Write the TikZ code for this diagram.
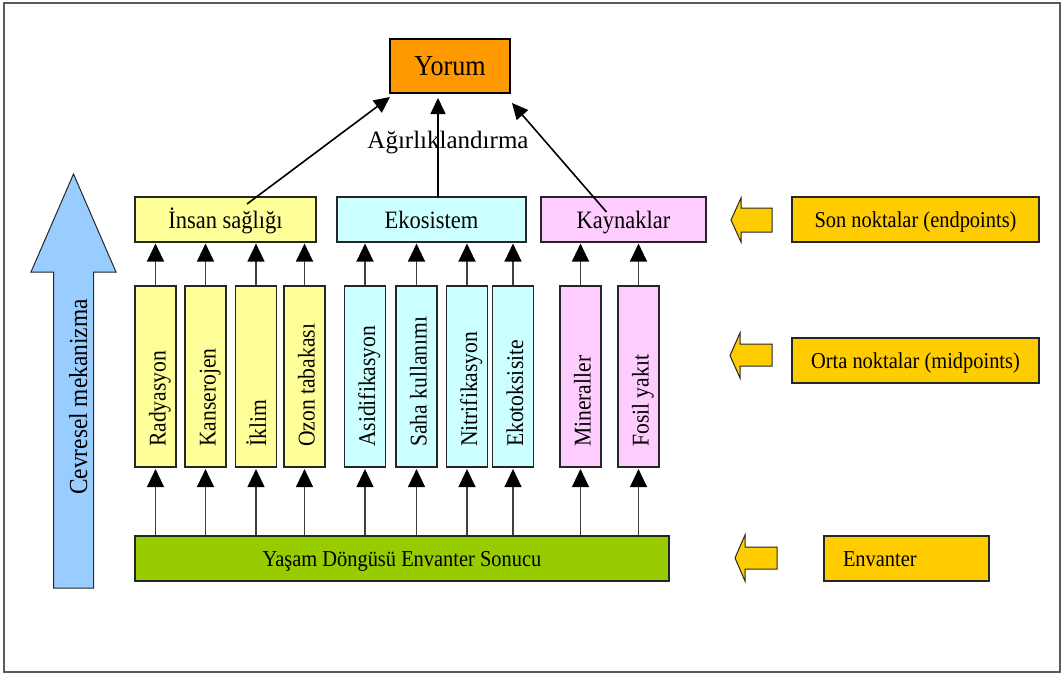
\documentclass[tikz,border=0pt]{standalone}
\usepackage{fontspec}
\setmainfont{Liberation Serif}[FakeStretch=0.9]
\newfontfamily\plainserif{Liberation Serif}
\usetikzlibrary{arrows.meta}

\definecolor{yorumfill}{HTML}{FF9900}
\definecolor{healthfill}{HTML}{FFFF99}
\definecolor{ecofill}{HTML}{CCFFFF}
\definecolor{resfill}{HTML}{FFCCFF}
\definecolor{invfill}{HTML}{99CC00}
\definecolor{levelfill}{HTML}{FFCC00}
\definecolor{mechfill}{HTML}{99CCFF}
\definecolor{framegray}{HTML}{5A5A5A}

\begin{document}
\begin{tikzpicture}[x=1pt,y=-1pt,
  box/.style={draw=black!85, line width=1.1pt, inner sep=0pt, align=center, text depth=0pt},
  topbox/.style={box, minimum height=45pt, text height=18pt, font=\fontsize{25}{25}\selectfont},
  catbox/.style={box, minimum width=41pt, minimum height=181pt},
  levelbox/.style={box, fill=levelfill, minimum height=45pt, text height=15.4pt,
    font=\fontsize{22.7}{23}\selectfont},
  vlabel/.style={rotate=90, anchor=base west, inner sep=0pt, font=\fontsize{24}{24}\selectfont},
  uparrow/.style={draw=black!75, line width=1.2pt, -{Triangle[width=17pt,length=18pt,color=black]}},
  weightarrow/.style={draw=black, line width=1.6pt, -{Triangle[width=15pt,length=16pt,color=black]}},
  blockarrow/.style={draw=black!85, line width=1pt, fill=levelfill, line join=miter}
]
\useasboundingbox (0,0) rectangle (1063,675);

% outer frame
\draw[framegray, line width=1.6pt] (4,3) rectangle (1060,672);

% environmental mechanism arrow
\draw[draw=black!85, line width=1pt, fill=mechfill]
  (53.5,588) -- (53.5,272) -- (31,272) -- (73.5,174) -- (116,272) -- (93.5,272) -- (93.5,588) -- cycle;
\node[vlabel, font=\fontsize{26}{26}\selectfont] (mech) at (87,495) {Cevresel mekanizma};

% interpretation
\node[box, fill=yorumfill, line width=1.6pt, draw=black, minimum width=120pt, minimum height=54pt,
  text height=19.5pt, font=\fontsize{29}{29}\selectfont] (yorum) at (450,66) {Yorum};
\node[inner sep=0pt, font=\plainserif\fontsize{25}{25}\selectfont] (agr) at (448,143) {Ağırlıklandırma};

% endpoints
\node[topbox, fill=healthfill, minimum width=181pt] (insan) at (225.5,219.5) {İnsan sağlığı};
\node[topbox, fill=ecofill, minimum width=189pt] (ekosis) at (431.5,219.5) {Ekosistem};
\node[topbox, fill=resfill, minimum width=165pt] (kaynak) at (623.5,219.5) {Kaynaklar};

% midpoints
\node[catbox, fill=healthfill] (rad) at (155.5,376.5) {};
\node[catbox, fill=healthfill] (kan) at (205.5,376.5) {};
\node[catbox, fill=healthfill] (ikl) at (256,376.5) {};
\node[catbox, fill=healthfill] (ozn) at (304.5,376.5) {};
\node[catbox, fill=ecofill] (asi) at (365,376.5) {};
\node[catbox, fill=ecofill] (sah) at (416.5,376.5) {};
\node[catbox, fill=ecofill] (nit) at (467,376.5) {};
\node[catbox, fill=ecofill] (ekt) at (513,376.5) {};
\node[catbox, fill=resfill] (min) at (580.5,376.5) {};
\node[catbox, fill=resfill] (fos) at (638.5,376.5) {};

\node[vlabel] (l-rad) at (165.5,447) {Radyasyon};
\node[vlabel] (l-kan) at (215.5,447) {Kanserojen};
\node[vlabel] (l-ikl) at (266,447) {İklim};
\node[vlabel] (l-ozn) at (314.5,447) {Ozon tabakası};
\node[vlabel] (l-asi) at (375,447) {Asidifikasyon};
\node[vlabel] (l-sah) at (426.5,447) {Saha kullanımı};
\node[vlabel] (l-nit) at (477,447) {Nitrifikasyon};
\node[vlabel] (l-ekt) at (523,447) {Ekotoksisite};
\node[vlabel] (l-min) at (590.5,447) {Mineraller};
\node[vlabel] (l-fos) at (648.5,447) {Fosil yakıt};

% inventory
\node[box, fill=invfill, minimum width=534pt, minimum height=45pt, text height=16pt,
  font=\fontsize{22.7}{23}\selectfont] (env) at (402,558.5) {Yaşam Döngüsü Envanter Sonucu};

% level legend
\node[levelbox, minimum width=247pt] (son) at (915.5,219.5) {Son noktalar (endpoints)};
\node[levelbox, minimum width=247pt] (orta) at (915.5,360.5) {Orta noktalar (midpoints)};
\node[levelbox, text width=127pt, inner xsep=19pt, align=left] (envl) at (906.5,558.5) {Envanter};

\draw[blockarrow] (772,208) -- (741,208) -- (741,198) -- (731,220) -- (741,242) -- (741,232) -- (772,232) -- cycle;
\draw[blockarrow] (772,344) -- (740,344) -- (740,333) -- (730,355.5) -- (740,378) -- (740,366) -- (772,366) -- cycle;
\draw[blockarrow] (777,547) -- (745,547) -- (745,535) -- (735,558) -- (745,581) -- (745,569) -- (777,569) -- cycle;

% inventory to midpoints
\foreach \c in {rad,kan,ikl,ozn,asi,sah,nit,ekt,min,fos}
  \draw[uparrow, shorten >=1.5pt] (\c |- env.north) -- (\c.south);

% midpoints to endpoints
\foreach \c in {rad,kan,ikl,ozn}
  \draw[uparrow, shorten >=1pt] (\c.north) -- (\c |- insan.south);
\foreach \c in {asi,sah,nit,ekt}
  \draw[uparrow, shorten >=1pt] (\c.north) -- (\c |- ekosis.south);
\foreach \c in {min,fos}
  \draw[uparrow, shorten >=1pt] (\c.north) -- (\c |- kaynak.south);

% weighting towards interpretation
\coordinate (w-insan) at (247,204);
\coordinate (w-eko) at (438,197);
\coordinate (w-kay) at (606.5,212);
\coordinate (y-left) at (390,97);
\coordinate (y-mid) at (438,98);
\coordinate (y-right) at (512,103);
\draw[weightarrow] (w-insan) -- (y-left);
\draw[weightarrow] (w-eko) -- (y-mid);
\draw[weightarrow] (w-kay) -- (y-right);
\end{tikzpicture}
\end{document}
